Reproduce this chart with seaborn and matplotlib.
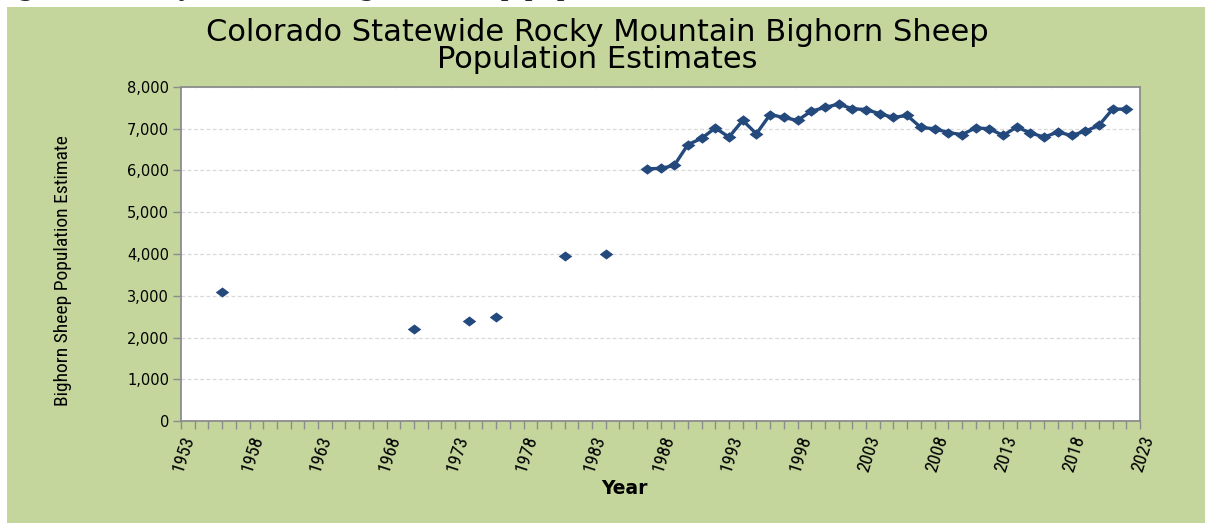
import numpy as np
import pandas as pd
import seaborn as sns
import matplotlib.pyplot as plt
from matplotlib import font_manager
from matplotlib.patches import Rectangle
from matplotlib.ticker import FuncFormatter, MultipleLocator

# early survey years, shown as separate points
early_years = [1956, 1970, 1974, 1976, 1981, 1984]
early_pop = [3100, 2200, 2400, 2500, 3950, 4000]

# yearly estimates from 1987 on (joined by a line)
years = list(range(1987, 2023))
pop = [6040, 6050, 6120, 6620, 6770, 7020, 6800, 7200, 6880, 7340,
       7270, 7200, 7420, 7510, 7590, 7480, 7460, 7360, 7270, 7320,
       7030, 7000, 6910, 6860, 7020, 7000, 6840, 7040, 6900, 6800,
       6920, 6840, 6940, 7080, 7470, 7470]

title = "Colorado Statewide Rocky Mountain Bighorn Sheep\nPopulation Estimates"
caption = "Figure 4. Rocky Mountain bighorn sheep population estimates."

blue = '#24497D'
green = '#C4D69C'

sns.set_style('white')
plt.rcParams['font.family'] = ['DejaVu Sans']

# look for a condensed face for the axis title and year labels
installed = font_manager.fontManager.ttflist
narrow_kw = {'family': 'Roboto', 'stretch': 'normal'}
for f in installed:
    if f.name in ('Liberation Sans Narrow', 'Roboto Condensed', 'Open Sans Condensed', 'Arial Narrow'):
        narrow_kw = {'family': f.name, 'stretch': 'normal'}
        break
else:
    for f in installed:
        if f.name == 'DejaVu Sans' and f.stretch in ('condensed', 'semi-condensed'):
            narrow_kw = {'family': 'DejaVu Sans', 'stretch': 'condensed'}
            break
is_condensed = narrow_kw['family'] != 'Roboto'

fig = plt.figure(figsize=(12.05, 5.23), dpi=100)
fig.patch.set_facecolor('white')

# green panel, with the cut off caption behind it
fig.add_artist(Rectangle((7 / 1205, 0), 1, 1 - 7 / 523, transform=fig.transFigure,
                         facecolor=green, edgecolor='none', zorder=-1))
fig.text(-8 / 1205, 1 + 6 / 523, caption, fontsize=23, fontstyle='italic',
         family=['Liberation Serif', 'DejaVu Serif'], va='baseline', zorder=-2)

ax = fig.add_axes([181 / 1205, 1 - 421 / 523, 959 / 1205, 334 / 523])
ax.set_facecolor('white')

diamond = [(-1, 0), (0, 0.75), (1, 0), (0, -0.75), (-1, 0)]
df_line = pd.DataFrame({'Year': years, 'Population': pop})
df_early = pd.DataFrame({'Year': early_years, 'Population': early_pop})

sns.lineplot(data=df_line, x='Year', y='Population', ax=ax, color=blue, lw=2.4,
             marker=diamond, markersize=10, markeredgewidth=0, zorder=3)
sns.scatterplot(data=df_early, x='Year', y='Population', ax=ax, color=blue,
                marker=diamond, s=95, linewidth=0, zorder=3)

ax.set_xlim(1953, 2023)
ax.set_ylim(0, 8000)
ax.xaxis.set_major_locator(MultipleLocator(5, offset=3))
ax.xaxis.set_minor_locator(MultipleLocator(1))
ax.yaxis.set_major_locator(MultipleLocator(1000))
ax.yaxis.set_major_formatter(FuncFormatter(lambda v, p: f'{v:,.0f}'))

ax.yaxis.grid(True, color='#D9D9D9', linestyle=(0, (3, 2)), lw=0.9)
ax.xaxis.grid(False)

for side in ['left', 'bottom', 'top', 'right']:
    ax.spines[side].set_color('#8C8C8C')
    ax.spines[side].set_linewidth(1.3)

ax.tick_params(axis='y', direction='out', length=6, width=1, color='#8C8C8C',
               labelsize=10.5, pad=2.5, left=True, labelcolor='black')
ax.tick_params(axis='x', which='both', direction='out', length=6, width=1,
               color='#8C8C8C', bottom=True)
ax.tick_params(axis='x', which='major', labelsize=13.5 if is_condensed else 11.5,
               pad=3, labelcolor='black')

for lab in ax.get_xticklabels():
    lab.set_rotation(72)
    lab.set_ha('right')
    lab.set_va('top')
    lab.set_rotation_mode('anchor')
    lab.set_family(narrow_kw['family'])
    lab.set_fontstretch(narrow_kw['stretch'])

ax.set_xlabel('')
ax.set_ylabel('')

fig.text(597 / 1205, 1 - 46 / 523, title, ha='center', va='center',
         fontsize=22, linespacing=0.88, color='black')
fig.text(624 / 1205, 1 - 489 / 523, 'Year', ha='center', va='center',
         fontsize=13.5, fontweight='bold', color='black')
fig.text(63 / 1205, 1 - 271 / 523, 'Bighorn Sheep Population Estimate',
         ha='center', va='center', rotation=90,
         fontsize=14 if is_condensed else 13,
         family=narrow_kw['family'], fontstretch=narrow_kw['stretch'], color='black')

fig.savefig('out.png', dpi=100, facecolor=fig.get_facecolor())
